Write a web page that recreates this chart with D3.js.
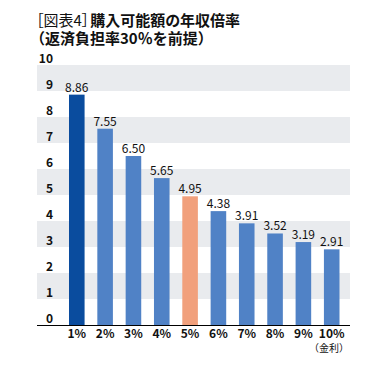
<!DOCTYPE html>
<html><head><meta charset="utf-8">
<script src="https://cdn.jsdelivr.net/npm/d3@7"></script>
<style>body{margin:0;background:#fff}svg{display:block}.ttl{font-feature-settings:"palt" 1}</style>
</head><body>
<script>
const categories = ["1%","2%","3%","4%","5%","6%","7%","8%","9%","10%"];
const values = [8.86,7.55,6.50,5.65,4.95,4.38,3.91,3.52,3.19,2.91];
const valueLabels = ["8.86","7.55","6.50","5.65","4.95","4.38","3.91","3.52","3.19","2.91"];
const yTicks = [0,1,2,3,4,5,6,7,8,9,10];
const titleLine1a = "［図表4］";
const titleLine1b = "購入可能額の年収倍率";
const titleLine2 = "（返済負担率30％を前提）";
const xUnit = "（金利）";

(function(){
const W = 388, H = 367;
const font = "'Noto Sans CJK JP','Noto Sans',sans-serif";
const svg = d3.select("body").append("svg").attr("width", W).attr("height", H);

const pLeft = 37, pRight = 350, pTop = 65, pBottom = 325;
const y = d3.scaleLinear().domain([0,10]).range([pBottom, pTop]);
const x = d3.scaleBand().domain(categories).range([60.5, 348]).paddingInner(0.45).paddingOuter(0.3);

// bands
const bandStarts = [1,3,5,7,9];
svg.append("g").selectAll("rect").data(bandStarts).join("rect")
  .attr("x", pLeft).attr("width", pRight - pLeft)
  .attr("y", d => y(d+1)).attr("height", d => y(d) - y(d+1))
  .attr("fill", "#e9ebee");

// y labels
svg.append("g").selectAll("text").data(yTicks).join("text")
  .attr("x", 53).attr("y", d => y(d) - 2)
  .attr("text-anchor", "end")
  .attr("font-family", font).attr("font-weight", "bold").attr("font-size", 12)
  .attr("fill", "#111").text(d => d);

// bars
const color = (d, i) => i === 0 ? "#0a4c9e" : (categories[i] === "5%" ? "#f1a07c" : "#5082c6");
svg.append("g").selectAll("rect").data(values).join("rect")
  .attr("x", (d,i) => x(categories[i]))
  .attr("width", x.bandwidth())
  .attr("y", d => y(d))
  .attr("height", d => y(0) - y(d))
  .attr("fill", color);

// value labels
svg.append("g").selectAll("text").data(values).join("text")
  .attr("x", (d,i) => x(categories[i]) + x.bandwidth()/2)
  .attr("y", d => y(d) - 3)
  .attr("text-anchor", "middle")
  .attr("font-family", font).attr("font-size", 12)
  .attr("fill", "#111").text((d,i) => valueLabels[i]);

// baseline
svg.append("line").attr("x1", pLeft).attr("x2", pRight).attr("y1", pBottom + 0.5).attr("y2", pBottom + 0.5)
  .attr("stroke", "#000").attr("stroke-width", 1.2);

// x axis labels
const xAxis = d3.axisBottom(x).tickSize(0).tickPadding(0);
const gx = svg.append("g").attr("transform", `translate(0,${pBottom})`).call(xAxis);
gx.select(".domain").remove();
gx.selectAll("text").attr("font-family", font).attr("font-weight", "bold").attr("font-size", 12)
  .attr("fill", "#111").attr("dy", "1.05em");

svg.append("text").attr("x", 349).attr("y", 352).attr("text-anchor", "end")
  .attr("font-family", font).attr("font-size", 10).attr("fill", "#111").text(xUnit);

// title
const t1a = svg.append("text").attr("class", "ttl").attr("x", 36).attr("y", 26)
  .attr("font-family", font).attr("font-size", 15).attr("fill", "#111").text(titleLine1a);
const wA = t1a.node().getComputedTextLength();
svg.append("text").attr("class", "ttl").attr("x", 36 + wA + 1).attr("y", 26)
  .attr("font-family", font).attr("font-size", 15).attr("font-weight", "bold").attr("fill", "#111")
  .text(titleLine1b);
svg.append("text").attr("x", 30).attr("y", 44)
  .attr("font-family", font).attr("font-size", 15).attr("font-weight", "bold").attr("fill", "#111")
  .text(titleLine2);
})();
</script>
</body></html>
